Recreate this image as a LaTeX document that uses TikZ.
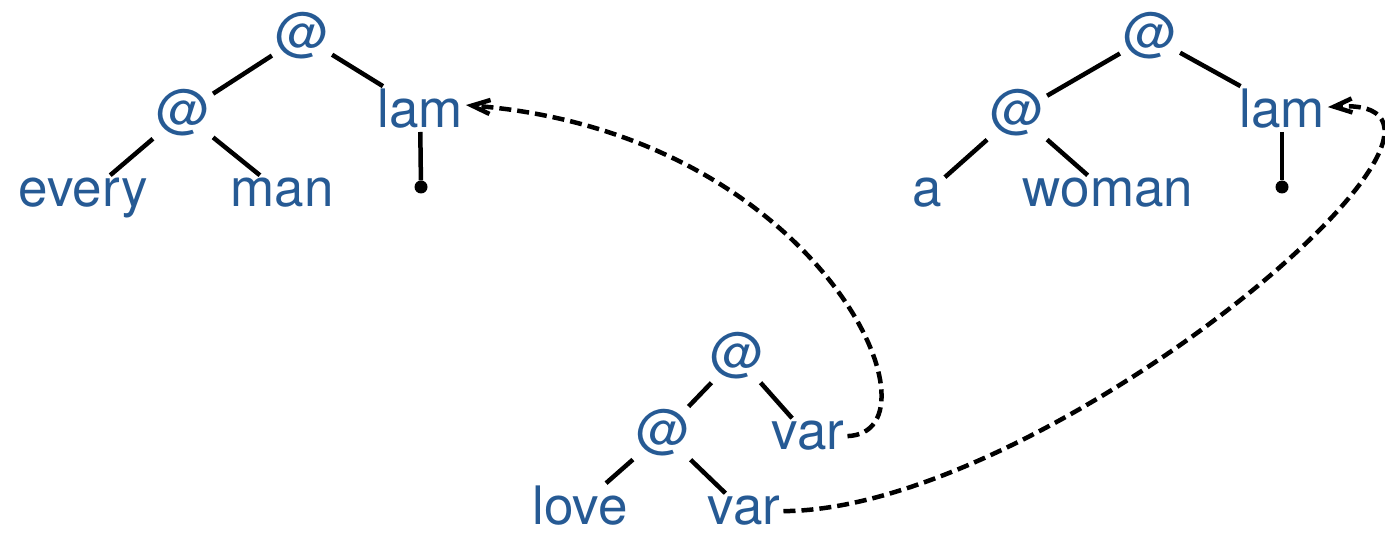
\documentclass[tikz,border=0pt]{standalone}
\usepackage{fontspec}
\setmainfont{TeX Gyre Heros}
\usetikzlibrary{arrows.meta}
\definecolor{termblue}{RGB}{38,90,148}

\begin{document}
\begin{tikzpicture}[x=1pt,y=1pt,>={Straight Barb[length=18pt,width=14pt]},
  lbl/.style={text=termblue,font=\fontsize{53}{60}\selectfont,inner sep=3pt,anchor=base},
  hole/.style={circle,fill,inner sep=0pt,minimum size=13pt},
  edge/.style={line width=4.5pt},
  bind/.style={line width=4.5pt,dash pattern=on 12pt off 6pt,->}]
\useasboundingbox (0,0) rectangle (1385,533);
% every man
\node[lbl] (appE)  at (302,481) {@};
\node[lbl] (appE2) at (183,404) {@};
\node[lbl] (lamE)  at (420,405) {lam};
\node[lbl] (every) at (83,326)  {every};
\node[lbl] (man)   at (282,326) {man};
\node[hole] (holeE) at (421,346) {};
% a woman
\node[lbl] (appA)  at (1150,481) {@};
\node[lbl] (appA2) at (1017,404) {@};
\node[lbl] (lamA)  at (1282,405) {lam};
\node[lbl] (a)     at (927,326)  {a};
\node[lbl] (woman) at (1108,326) {woman};
\node[hole] (holeA) at (1282,346) {};
% love var var
\node[lbl] (appL)  at (737,161) {@};
\node[lbl] (appL2) at (663,84)  {@};
\node[lbl] (varE)  at (808,83)  {var};
\node[lbl] (love)  at (580,8)   {love};
\node[lbl] (varA)  at (744,8)   {var};
\draw[edge] (appE) -- (appE2);
\draw[edge] (appE) -- (lamE);
\draw[edge] (appE2) -- (every);
\draw[edge] (appE2) -- (man);
\draw[edge] (lamE) -- (holeE);
\draw[edge] (appA) -- (appA2);
\draw[edge] (appA) -- (lamA);
\draw[edge] (appA2) -- (a);
\draw[edge] (appA2) -- (woman);
\draw[edge] (lamA) -- (holeA);
\draw[edge] (appL) -- (appL2);
\draw[edge] (appL) -- (varE);
\draw[edge] (appL2) -- (love);
\draw[edge] (appL2) -- (varA);
\draw[bind] (varE.east) .. controls (950,101) and (820,400) .. ([yshift=4pt]lamE.east);
\draw[bind] (varA.east) .. controls (1050,23) and (1540,440) .. ([yshift=2pt]lamA.east);
\end{tikzpicture}
\end{document}
